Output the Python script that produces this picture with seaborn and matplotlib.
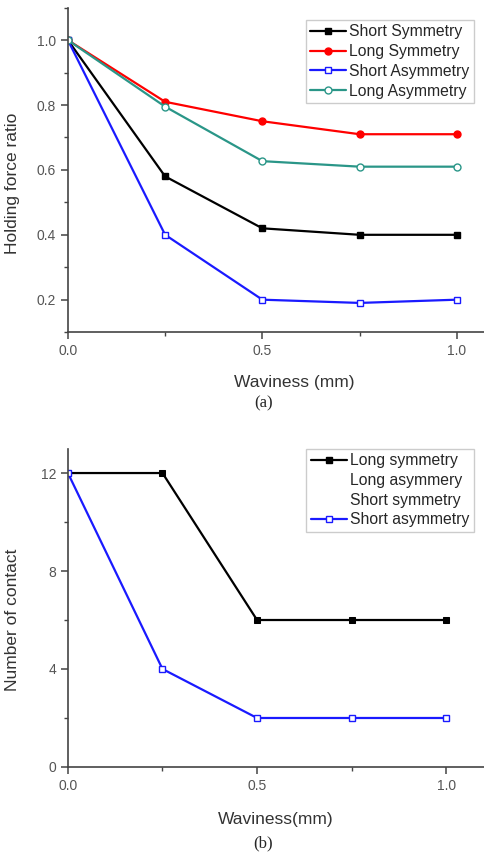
import numpy as np
import pandas as pd
import matplotlib.pyplot as plt
import seaborn as sns
from matplotlib.lines import Line2D
from matplotlib.ticker import MultipleLocator

# data
waviness = [0.0, 0.25, 0.5, 0.75, 1.0]

short_sym = [1.0, 0.58, 0.42, 0.40, 0.40]
long_sym = [1.0, 0.81, 0.75, 0.71, 0.71]
short_asym = [1.0, 0.40, 0.20, 0.19, 0.20]
long_asym = [1.0, 0.795, 0.627, 0.61, 0.61]

contact_long_sym = [12, 12, 6, 6, 6]
contact_short_asym = [12, 4, 2, 2, 2]

sns.set_style('ticks')
plt.rcParams['font.family'] = ['Liberation Sans', 'DejaVu Sans']

fig = plt.figure(figsize=(4.85, 8.56), dpi=100)
ax1 = fig.add_axes([0.140, 0.612, 0.858, 0.379])
ax2 = fig.add_axes([0.140, 0.104, 0.858, 0.372])

gray = '#444444'
lw = 1.6
ms = 5

# (a) holding force ratio
top_series = [
    ('Short Symmetry', short_sym, 'black', 's', 'black'),
    ('Long Symmetry', long_sym, '#ff0000', 'o', '#ff0000'),
    ('Short Asymmetry', short_asym, '#1a1aff', 's', 'white'),
    ('Long Asymmetry', long_asym, '#2a9688', 'o', 'white'),
]
for name, vals, col, mk, fc in top_series:
    sns.lineplot(x=waviness, y=vals, ax=ax1, color=col, marker=mk, markersize=ms,
                 markerfacecolor=fc, markeredgecolor=col, markeredgewidth=1.0,
                 linewidth=lw, label=name)

ax1.set_xlim(0, 1.07)
ax1.set_ylim(0.1, 1.1)
ax1.xaxis.set_minor_locator(MultipleLocator(0.25))
ax1.yaxis.set_minor_locator(MultipleLocator(0.1))
ax1.set_xticks([0.0, 0.5, 1.0])
ax1.set_xticklabels(['0.0', '0.5', '1.0'])
ax1.set_yticks([0.2, 0.4, 0.6, 0.8, 1.0])
ax1.set_yticklabels(['0.2', '0.4', '0.6', '0.8', '1.0'])
ax1.set_xlabel('Waviness (mm)', fontsize=12.5, color='#333333')
ax1.set_ylabel('Holding force ratio', fontsize=12.5, color='#333333')
ax1.xaxis.set_label_coords(0.544, -0.133)
ax1.yaxis.set_label_coords(-0.115, 0.46)
ax1.legend(loc='upper right', bbox_to_anchor=(0.975, 0.963), fontsize=11.3,
           frameon=True, fancybox=False, edgecolor='#cccccc', framealpha=1,
           handlelength=2.3, handletextpad=0.15, labelspacing=0.3,
           borderpad=0.3, borderaxespad=0)

# (b) number of contact
sns.lineplot(x=waviness, y=contact_long_sym, ax=ax2, color='black', marker='s',
             markersize=ms, markerfacecolor='black', markeredgecolor='black',
             linewidth=lw)
sns.lineplot(x=waviness, y=contact_short_asym, ax=ax2, color='#1a1aff', marker='s',
             markersize=ms, markerfacecolor='white', markeredgecolor='#1a1aff',
             markeredgewidth=1.0, linewidth=lw)

ax2.set_xlim(0, 1.1)
ax2.set_ylim(0, 13)
ax2.xaxis.set_minor_locator(MultipleLocator(0.25))
ax2.yaxis.set_minor_locator(MultipleLocator(2))
ax2.set_xticks([0.0, 0.5, 1.0])
ax2.set_xticklabels(['0.0', '0.5', '1.0'])
ax2.set_yticks([0, 4, 8, 12])
ax2.set_yticklabels(['0', '4', '8', '12'])
ax2.set_xlabel('Waviness(mm)', fontsize=12.5, color='#333333')
ax2.set_ylabel('Number of contact', fontsize=12.5, color='#333333')
ax2.xaxis.set_label_coords(0.499, -0.142)
ax2.yaxis.set_label_coords(-0.115, 0.462)

handles = [
    Line2D([], [], color='black', marker='s', markersize=ms, linewidth=lw),
    Line2D([], [], linestyle='none'),
    Line2D([], [], linestyle='none'),
    Line2D([], [], color='#1a1aff', marker='s', markersize=ms, markerfacecolor='white',
           markeredgecolor='#1a1aff', linewidth=lw),
]
labels = ['Long symmetry', 'Long asymmery', 'Short symmetry', 'Short asymmetry']
ax2.legend(handles, labels, loc='upper right', bbox_to_anchor=(0.975, 1.0), fontsize=11.3,
           frameon=True, fancybox=False, edgecolor='#cccccc', framealpha=1,
           handlelength=2.3, handletextpad=0.15, labelspacing=0.3,
           borderpad=0.3, borderaxespad=0)

for ax in (ax1, ax2):
    sns.despine(ax=ax)
    for s in ('left', 'bottom'):
        ax.spines[s].set_color(gray)
        ax.spines[s].set_linewidth(1.2)
    ax.tick_params(which='major', direction='out', length=5, width=1.1, color=gray,
                   labelsize=10, labelcolor='#555555')
    ax.tick_params(which='minor', direction='out', length=3, width=1.0, color=gray)

fig.text(0.543, 1 - 403 / 856, '(a)', ha='center', va='center', fontsize=12,
         family=['Liberation Serif', 'DejaVu Serif'])
fig.text(0.543, 1 - 843 / 856, '(b)', ha='center', va='center', fontsize=12,
         family=['Liberation Serif', 'DejaVu Serif'])

fig.savefig('out.png', dpi=100)
